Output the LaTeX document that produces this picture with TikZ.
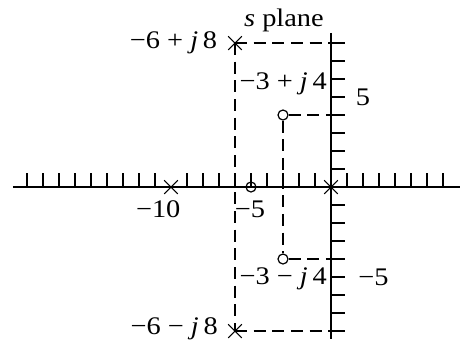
\documentclass[tikz,border=0pt]{standalone}
\usepackage{fontspec}
\setmainfont{Liberation Serif}
\usetikzlibrary{shapes.misc}
\newcommand{\hstretch}[1]{\scalebox{1.12}[1]{#1}}
\tikzset{
  axisline/.style={line width=1.3pt},
  tickline/.style={line width=1.0pt},
  dashline/.style={line width=1.0pt, dash pattern=on 9pt off 5pt},
  pole/.style={cross out, draw, line width=0.8pt, minimum size=9.5pt, inner sep=0pt},
  zero/.style={circle, draw, line width=0.9pt, minimum size=7.5pt, inner sep=0pt},
  lbl/.style={inner sep=0pt, font=\fontsize{19}{22}\selectfont}
}
\begin{document}
\begin{tikzpicture}[x=12pt, y=13.5pt]
\useasboundingbox (-20.6875,-8.444) rectangle (8.0625,10.389);
% axes
\coordinate (xl) at (-19.875,0);
\coordinate (xr) at (8.0625,0);
\coordinate (yt) at (0,8.56);
\coordinate (yb) at (0,-8.444);
\draw[axisline] (xl) -- (xr);
\draw[axisline] (yt) -- (yb);
% ticks on real axis
\foreach \i in {-19,...,-11,-9,-8,...,-1,1,2,...,7}
  \draw[tickline] (\i,0) -- (\i,0.78);
% ticks on imaginary axis
\foreach \j in {-8,...,-1,1,2,...,8}
  \draw[tickline] (0,\j) -- (0.9,\j);
% points on imaginary axis
\coordinate (i8) at (0,8);
\coordinate (i4) at (0,4);
\coordinate (im4) at (0,-4);
\coordinate (im8) at (0,-8);
% poles and zeros
\node[pole] (p1) at (-6,8) {};
\node[pole] (p2) at (-6,-8) {};
\node[pole] (p3) at (-10,0) {};
\node[pole] (p4) at (0,0) {};
\node[zero] (z1) at (-3,4) {};
\node[zero] (z2) at (-3,-4) {};
\node[zero] (z3) at (-5,0) {};
% dashed guide lines
\draw[dashline] (p1.center) -- (i8);
\draw[dashline] (p1.center) -- (p2.center);
\draw[dashline] (p2.center) -- (im8);
\draw[dashline] (z1) -- (i4);
\draw[dashline] (z1) -- (z2);
\draw[dashline] (z2) -- (im4);
% labels
\node[lbl, anchor=base] (splane) at (-2.94,8.92) {\hstretch{\textit{s} plane}};
\node[lbl, anchor=base east] (l1) at (-7.1,7.72) {\hstretch{−6 + \textit{j}\,8}};
\node[lbl, anchor=base east] (l2) at (-0.25,5.44) {\hstretch{−3 + \textit{j}\,4}};
\node[lbl] (l5) at (2.0,5.0) {\hstretch{5}};
\node[lbl, anchor=base] (lm10) at (-10.8,-1.7) {\hstretch{−10}};
\node[lbl, anchor=base] (lm5) at (-5.06,-1.7) {\hstretch{−5}};
\node[lbl, anchor=base east] (l3) at (-0.25,-5.39) {\hstretch{−3 − \textit{j}\,4}};
\node[lbl] (lm5b) at (2.65,-5.0) {\hstretch{−5}};
\node[lbl, anchor=base east] (l4) at (-7.06,-8.22) {\hstretch{−6 − \textit{j}\,8}};
\end{tikzpicture}
\end{document}
